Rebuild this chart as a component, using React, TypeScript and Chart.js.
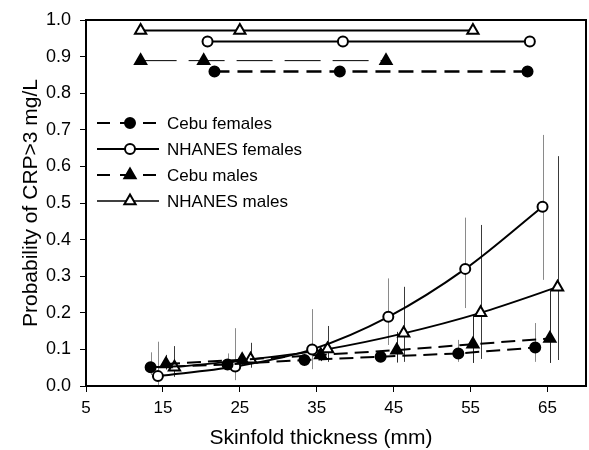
import React, { useEffect, useRef } from 'react';
import { Chart, registerables } from 'chart.js';
Chart.register(...registerables);

const FONT = '"Liberation Sans", Arial, Helvetica, sans-serif';

const xTicks = [5, 15, 25, 35, 45, 55, 65];
const yTicks = [0, 0.1, 0.2, 0.3, 0.4, 0.5, 0.6, 0.7, 0.8, 0.9, 1.0];

const xTitle = 'Skinfold thickness (mm)';
const yTitle = 'Probability of CRP>3 mg/L';

const seriesNames = ['Cebu females', 'NHANES females', 'Cebu males', 'NHANES males'];

// Main series
const cebuFemX = [13.4, 23.4, 33.4, 43.3, 53.4, 63.4];
const cebuFemY = [0.051, 0.059, 0.071, 0.08, 0.089, 0.105];
const cebuFemLo = [0.03, 0.045, 0.058, 0.065, 0.066, 0.066];
const cebuFemHi = [0.092, 0.089, 0.088, 0.095, 0.126, 0.172];

const nhFemX = [14.35, 24.4, 34.4, 44.3, 54.3, 64.35];
const nhFemY = [0.027, 0.053, 0.1, 0.189, 0.32, 0.49];
const nhFemLo = [0.003, 0.016, 0.046, 0.112, 0.213, 0.29];
const nhFemHi = [0.121, 0.158, 0.21, 0.294, 0.46, 0.686];

const cebuMalX = [15.4, 25.3, 35.5, 45.4, 55.3, 65.3];
const cebuMalY = [0.06, 0.072, 0.085, 0.098, 0.114, 0.13];
const cebuMalLo = [0.045, 0.058, 0.068, 0.064, 0.063, 0.063];
const cebuMalHi = [0.085, 0.09, 0.105, 0.148, 0.194, 0.262];

const nhMalX = [16.5, 26.4, 36.4, 46.3, 56.3, 66.3];
const nhMalY = [0.051, 0.073, 0.101, 0.144, 0.2, 0.27];
const nhMalLo = [0.025, 0.05, 0.066, 0.066, 0.074, 0.071];
const nhMalHi = [0.109, 0.118, 0.164, 0.271, 0.44, 0.628];

// Top reference lines
const topNhMalX = [12.1, 25.0, 55.3];
const topNhMalY = [0.971, 0.971, 0.971];
const topNhFemX = [20.8, 38.4, 62.7];
const topNhFemY = [0.941, 0.941, 0.941];
const topCebuMalX = [12.1, 20.3, 44.0];
const topCebuMalY = [0.889, 0.889, 0.889];
const topCebuFemX = [21.7, 38.0, 62.4];
const topCebuFemY = [0.859, 0.859, 0.859];

const pts = (xs: number[], ys: number[]) => xs.map((x, i) => ({ x, y: ys[i] }));

const errorBars = [
  { x: cebuFemX, lo: cebuFemLo, hi: cebuFemHi, color: '#8a8a8a' },
  { x: nhFemX, lo: nhFemLo, hi: nhFemHi, color: '#8a8a8a' },
  { x: cebuMalX, lo: cebuMalLo, hi: cebuMalHi, color: '#2a2a2a' },
  { x: nhMalX, lo: nhMalLo, hi: nhMalHi, color: '#3a3a3a' },
];

function drawMarker(ctx: CanvasRenderingContext2D, kind: string, x: number, y: number, r: number, filled: boolean) {
  ctx.save();
  ctx.setLineDash([]);
  ctx.lineWidth = 2;
  ctx.strokeStyle = '#000';
  ctx.fillStyle = filled ? '#000' : '#fff';
  ctx.beginPath();
  if (kind === 'circle') {
    ctx.arc(x, y, r, 0, Math.PI * 2);
  } else {
    let a = 0;
    ctx.moveTo(x + Math.sin(a) * r, y - Math.cos(a) * r);
    a += (2 * Math.PI) / 3;
    ctx.lineTo(x + Math.sin(a) * r, y - Math.cos(a) * r);
    a += (2 * Math.PI) / 3;
    ctx.lineTo(x + Math.sin(a) * r, y - Math.cos(a) * r);
    ctx.closePath();
  }
  ctx.fill();
  ctx.stroke();
  ctx.restore();
}

const legendItems = [
  { label: seriesNames[0], dash: [13, 10], width: 2, kind: 'circle', filled: true, r: 5 },
  { label: seriesNames[1], dash: [], width: 2, kind: 'circle', filled: false, r: 5 },
  { label: seriesNames[2], dash: [13, 10], width: 2, kind: 'triangle', filled: true, r: 6.5 },
  { label: seriesNames[3], dash: [], width: 1.4, kind: 'triangle', filled: false, r: 6.5 },
];

const errorBarPlugin = {
  id: 'errorBars',
  beforeDatasetsDraw(chart: any) {
    const { ctx, scales } = chart;
    const xs = scales.x;
    const ys = scales.y;
    ctx.save();
    ctx.lineWidth = 1;
    for (const s of errorBars) {
      ctx.strokeStyle = s.color;
      s.x.forEach((xv: number, i: number) => {
        const px = Math.round(xs.getPixelForValue(xv)) + 0.5;
        ctx.beginPath();
        ctx.moveTo(px, ys.getPixelForValue(s.lo[i]));
        ctx.lineTo(px, ys.getPixelForValue(s.hi[i]));
        ctx.stroke();
      });
    }
    ctx.restore();
  },
};

const decorPlugin = {
  id: 'decor',
  afterDraw(chart: any) {
    const { ctx, chartArea } = chart;
    const { left, top, right, bottom } = chartArea;
    ctx.save();
    // frame
    ctx.lineWidth = 2;
    ctx.strokeStyle = '#000';
    ctx.setLineDash([]);
    ctx.strokeRect(left, top, right - left, bottom - top);
    // legend
    const x0 = 97;
    const x1 = 159;
    const mx = 130;
    const tx = 167;
    const rows = [123, 149, 175, 201];
    ctx.font = `17px ${FONT}`;
    ctx.textBaseline = 'middle';
    ctx.textAlign = 'left';
    legendItems.forEach((it, i) => {
      const y = rows[i];
      ctx.beginPath();
      ctx.lineWidth = it.width;
      ctx.setLineDash(it.dash);
      ctx.moveTo(x0, y);
      ctx.lineTo(x1, y);
      ctx.stroke();
      drawMarker(ctx, it.kind, mx, y, it.r, it.filled);
      ctx.fillStyle = '#000';
      ctx.fillText(it.label, tx, y + 1);
    });
    // x title
    ctx.setLineDash([]);
    ctx.font = `21px ${FONT}`;
    ctx.textAlign = 'center';
    ctx.textBaseline = 'middle';
    ctx.fillStyle = '#000';
    ctx.fillText(xTitle, 321, 438);
    ctx.restore();
  },
};

export default function App() {
  const ref = useRef<HTMLCanvasElement | null>(null);
  useEffect(() => {
    if (!ref.current) return;
    const common = { borderColor: '#000', pointBorderColor: '#000', pointBorderWidth: 2, pointHoverRadius: 0 };
    const chart = new Chart(ref.current, {
      type: 'line',
      data: {
        datasets: [
          {
            ...common, label: 'Cebu females', data: pts(cebuFemX, cebuFemY), borderWidth: 2, borderDash: [14, 7],
            pointStyle: 'circle', pointRadius: 5, pointBackgroundColor: '#000', tension: 0,
          },
          {
            ...common, label: 'NHANES females', data: pts(nhFemX, nhFemY), borderWidth: 2,
            pointStyle: 'circle', pointRadius: 5, pointBackgroundColor: '#fff', cubicInterpolationMode: 'monotone',
          },
          {
            ...common, label: 'Cebu males', data: pts(cebuMalX, cebuMalY), borderWidth: 2, borderDash: [14, 7],
            pointStyle: 'triangle', pointRadius: 6.5, pointBackgroundColor: '#000', tension: 0,
          },
          {
            ...common, label: 'NHANES males', data: pts(nhMalX, nhMalY), borderWidth: 1.8,
            pointStyle: 'triangle', pointRadius: 6.5, pointBackgroundColor: '#fff', cubicInterpolationMode: 'monotone',
          },
          {
            ...common, label: 'NHANES males (top)', data: pts(topNhMalX, topNhMalY), borderWidth: 2,
            pointStyle: 'triangle', pointRadius: 6.5, pointBackgroundColor: '#fff', tension: 0,
          },
          {
            ...common, label: 'NHANES females (top)', data: pts(topNhFemX, topNhFemY), borderWidth: 2,
            pointStyle: 'circle', pointRadius: 5, pointBackgroundColor: '#fff', tension: 0,
          },
          {
            ...common, label: 'Cebu males (top)', data: pts(topCebuMalX, topCebuMalY), borderWidth: 1, borderDash: [36, 12],
            pointStyle: 'triangle', pointRadius: 6.5, pointBackgroundColor: '#000', tension: 0,
          },
          {
            ...common, label: 'Cebu females (top)', data: pts(topCebuFemX, topCebuFemY), borderWidth: 2.5, borderDash: [15, 8],
            pointStyle: 'circle', pointRadius: 5, pointBackgroundColor: '#000', tension: 0,
          },
        ],
      },
      options: {
        animation: false,
        responsive: false,
        devicePixelRatio: 1,
        layout: { autoPadding: false, padding: { left: 0, right: 3, top: 20, bottom: 0 } },
        plugins: { legend: { display: false }, tooltip: { enabled: false }, title: { display: false } },
        events: [],
        scales: {
          x: {
            type: 'linear',
            min: 5,
            max: 70,
            afterBuildTicks: (s: any) => { s.ticks = xTicks.map((v) => ({ value: v })); },
            afterFit: (s: any) => { s.height = 64; s.paddingLeft = 0; s.paddingRight = 0; },
            border: { display: false },
            grid: { drawOnChartArea: false, drawTicks: true, tickLength: 6, color: '#000', lineWidth: 1 },
            ticks: { color: '#000', font: { size: 17, family: FONT }, padding: 6, maxRotation: 0, autoSkip: false, callback: (v: any) => String(v) },
          },
          y: {
            type: 'linear',
            min: 0,
            max: 1,
            afterBuildTicks: (s: any) => { s.ticks = yTicks.map((v) => ({ value: v })); },
            afterFit: (s: any) => { s.width = 86; s.paddingTop = 0; s.paddingBottom = 0; },
            border: { display: false },
            grid: { drawOnChartArea: false, drawTicks: true, tickLength: 6, color: '#000', lineWidth: 1 },
            ticks: { color: '#000', font: { size: 18, family: FONT }, padding: 9, autoSkip: false, callback: (v: any) => Number(v).toFixed(1) },
            title: { display: true, text: yTitle, color: '#000', font: { size: 21, family: FONT }, padding: { top: 19, bottom: 0 } },
          },
        },
      } as any,
      plugins: [errorBarPlugin, decorPlugin],
    });
    return () => chart.destroy();
  }, []);
  return (
    <div style={{ position: 'absolute', left: 0, top: 0, width: 589, height: 450, background: '#fff' }}>
      <canvas ref={ref} width={589} height={450} style={{ display: 'block' }} />
    </div>
  );
}
